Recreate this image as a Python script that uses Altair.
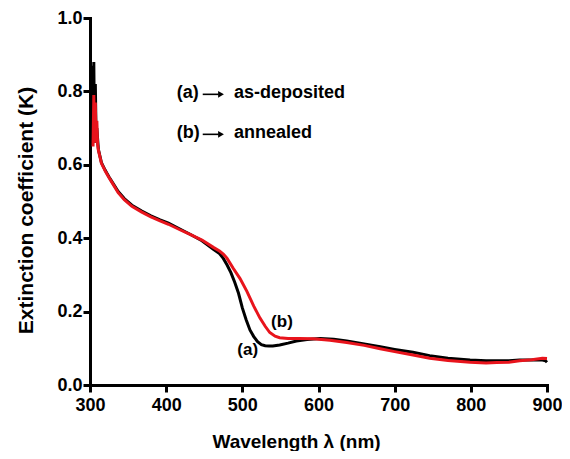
import altair as alt
import pandas as pd

# ---- data ----
wl_a = [302, 303, 304, 305, 306, 307, 308, 309, 311, 315, 320, 325, 330, 337, 345, 355,
        368, 380, 392, 403, 418, 432, 447, 462, 470, 475, 480, 485, 490, 495, 500, 505,
        510, 515, 520, 525, 530, 535, 540, 549, 560, 571, 585, 602, 620, 637, 660, 681,
        700, 724, 746, 770, 799, 820, 834, 850, 864, 880, 894, 898, 900]
k_a = [0.66, 0.87, 0.70, 0.88, 0.66, 0.82, 0.68, 0.70, 0.642, 0.606, 0.585, 0.567, 0.55,
       0.527, 0.508, 0.49, 0.474, 0.461, 0.45, 0.441, 0.425, 0.41, 0.393, 0.37, 0.358,
       0.345, 0.327, 0.306, 0.28, 0.25, 0.21, 0.178, 0.15, 0.132, 0.118, 0.11, 0.107,
       0.106, 0.106, 0.109, 0.114, 0.12, 0.124, 0.127, 0.125, 0.12, 0.112, 0.104, 0.097,
       0.089, 0.08, 0.073, 0.068, 0.066, 0.066, 0.066, 0.068, 0.068, 0.068, 0.066, 0.062]

wl_b = [304, 305, 306, 307, 308, 309, 310, 311, 315, 320, 325, 330, 337, 345, 355, 368,
        380, 392, 403, 418, 432, 447, 462, 470, 475, 480, 488, 497, 506, 515, 523, 530,
        536, 543, 549, 560, 575, 593, 615, 637, 660, 681, 700, 724, 746, 770, 799, 820,
        834, 850, 864, 880, 894, 900]
k_b = [0.65, 0.79, 0.66, 0.77, 0.66, 0.72, 0.655, 0.64, 0.604, 0.583, 0.565, 0.548, 0.524,
       0.505, 0.487, 0.471, 0.458, 0.447, 0.438, 0.423, 0.41, 0.395, 0.375, 0.365, 0.357,
       0.345, 0.318, 0.29, 0.255, 0.215, 0.183, 0.16, 0.143, 0.133, 0.129, 0.127, 0.127,
       0.126, 0.122, 0.116, 0.108, 0.099, 0.091, 0.082, 0.073, 0.067, 0.062, 0.06, 0.061,
       0.062, 0.066, 0.069, 0.073, 0.072]

series = ["a", "b"]
colors = ["#000000", "#e8141c"]

# annotation texts
ann_text = ["(a)", "as-deposited", "(b)", "annealed", "(b)", "(a)"]
ann_x = [414, 489, 414, 489, 552, 507]
ann_y = [0.796, 0.796, 0.687, 0.687, 0.173, 0.096]
ann_align = ["left", "left", "left", "left", "center", "center"]

arrow_x1 = [448, 448]
arrow_x2 = [469, 469]
arrow_head = [472, 472]
arrow_y = [0.792, 0.683]

x_ticks = [300, 400, 500, 600, 700, 800, 900]
y_ticks = [0, 0.2, 0.4, 0.6, 0.8, 1.0]

FONT = "Liberation Sans"

df = pd.concat([
    pd.DataFrame({"wl": wl_a, "k": k_a, "s": "a"}),
    pd.DataFrame({"wl": wl_b, "k": k_b, "s": "b"}),
])
ann = pd.DataFrame({"x": ann_x, "y": ann_y, "t": ann_text, "al": ann_align})
arr = pd.DataFrame({"x1": arrow_x1, "x2": arrow_x2, "xh": arrow_head, "y": arrow_y})

xs = alt.Scale(domain=[300, 900], nice=False, zero=False)
ys = alt.Scale(domain=[0, 1.0], nice=False)

lines = alt.Chart(df).mark_line(strokeWidth=3, interpolate="linear").encode(
    x=alt.X("wl:Q", scale=xs,
            axis=alt.Axis(title="Wavelength λ (nm)", values=x_ticks, labelFlush=False,
                          format="d", titleX=206, titleY=62, titleBaseline="alphabetic",
                          titleAlign="center", titleFontSize=19, labelPadding=4)),
    y=alt.Y("k:Q", scale=ys,
            axis=alt.Axis(title="Extinction coefficient (K)", values=y_ticks, labelFlush=False,
                          format=".1f", titleX=-58, titleY=192, titleAngle=-90,
                          titleBaseline="alphabetic", titleAlign="center", titleFontSize=21,
                          labelPadding=1)),
    color=alt.Color("s:N", scale=alt.Scale(domain=series, range=colors), legend=None),
    order=alt.Order("wl:Q"),
)

left_txt = alt.Chart(ann[ann.al == "left"]).mark_text(
    align="left", baseline="middle", font=FONT, fontWeight="bold", fontSize=18, color="black"
).encode(x=alt.X("x:Q", scale=xs), y=alt.Y("y:Q", scale=ys), text="t:N")

ctr_txt = alt.Chart(ann[ann.al == "center"]).mark_text(
    align="center", baseline="middle", font=FONT, fontWeight="bold", fontSize=17, color="black"
).encode(x=alt.X("x:Q", scale=xs), y=alt.Y("y:Q", scale=ys), text="t:N")

arrow_lines = alt.Chart(arr).mark_rule(strokeWidth=1.6, color="black").encode(
    x=alt.X("x1:Q", scale=xs), x2="x2:Q", y=alt.Y("y:Q", scale=ys)
)
arrow_heads = alt.Chart(arr).mark_point(shape="triangle-right", filled=True, size=45,
                                        color="black", opacity=1).encode(
    x=alt.X("xh:Q", scale=xs), y=alt.Y("y:Q", scale=ys)
)

chart = alt.layer(lines, arrow_lines, arrow_heads, left_txt, ctr_txt).properties(
    width=457, height=367,
    autosize=alt.AutoSizeParams(type="none"),
    padding={"left": 82, "top": 10, "right": 15, "bottom": 66},
).configure_view(stroke=None).configure_axis(
    grid=False, domainColor="black", domainWidth=3, tickColor="black", tickWidth=3,
    tickSize=7, labelFont=FONT, labelFontWeight="bold", labelFontSize=18, labelColor="black",
    titleFont=FONT, titleFontWeight="bold", titleColor="black", domainCap="square"
)

chart.save("out.html", embed_options={"renderer": "svg", "actions": False})
